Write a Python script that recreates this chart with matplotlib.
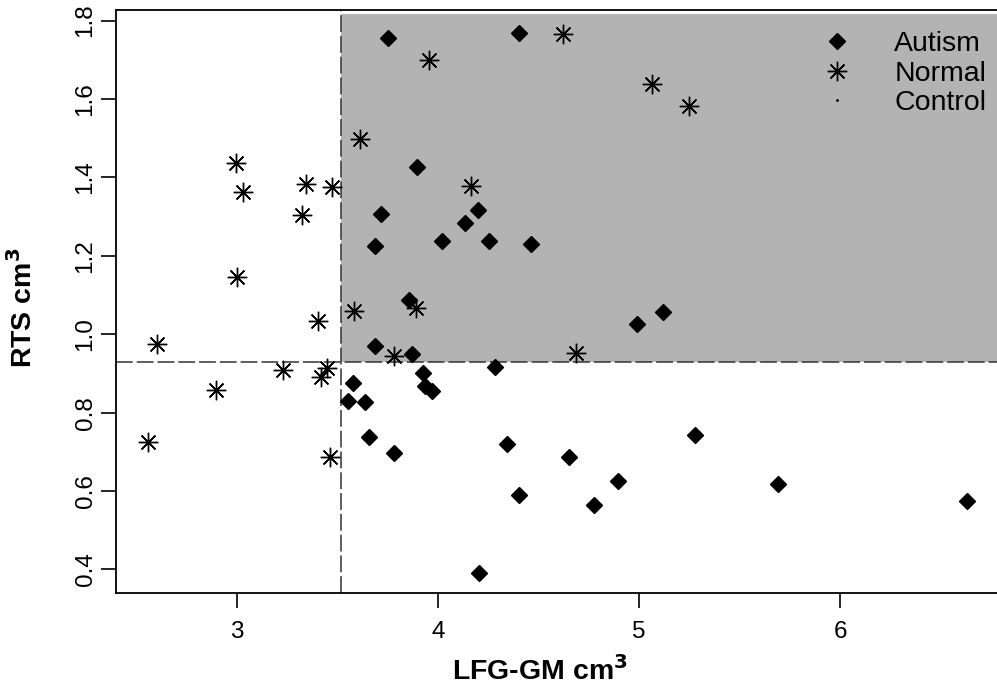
import matplotlib
matplotlib.use("Agg")
import matplotlib.pyplot as plt
from matplotlib.patches import Rectangle

plt.rcParams["font.family"] = ["Liberation Sans", "DejaVu Sans"]

# Autism group (filled diamonds)
autism_x = [3.752, 4.405, 3.898, 3.718, 4.198, 4.137, 3.689, 4.019, 4.256, 4.465,
            3.858, 3.688, 3.872, 4.283, 3.925, 3.936, 3.970, 3.577, 3.552, 3.636,
            3.658, 3.782, 4.344, 4.651, 4.404, 4.898, 4.778, 4.205, 4.989, 5.118,
            5.279, 5.693, 6.630]
autism_y = [1.756, 1.768, 1.427, 1.307, 1.316, 1.283, 1.226, 1.237, 1.237, 1.230,
            1.088, 0.969, 0.949, 0.916, 0.901, 0.869, 0.856, 0.875, 0.830, 0.827,
            0.737, 0.697, 0.719, 0.687, 0.589, 0.626, 0.565, 0.390, 1.027, 1.056,
            0.743, 0.618, 0.575]

# Normal control group (asterisks)
normal_x = [2.559, 2.604, 2.897, 2.997, 3.031, 3.000, 3.230, 3.325, 3.345, 3.405,
            3.420, 3.448, 3.464, 3.475, 3.583, 3.613, 3.957, 4.164, 4.624, 5.067,
            5.251, 4.686, 3.784, 3.892]
normal_y = [0.726, 0.976, 0.857, 1.438, 1.364, 1.147, 0.910, 1.305, 1.382, 1.035,
            0.892, 0.915, 0.686, 1.375, 1.060, 1.498, 1.699, 1.379, 1.765, 1.638,
            1.582, 0.951, 0.945, 1.066]

# cut-off lines
x_cut = 3.517
y_cut = 0.930
shade_top = 1.817

xlim = (2.40, 6.78)
ylim = (0.34, 1.827)
xticks = [3, 4, 5, 6]
yticks = [0.4, 0.6, 0.8, 1.0, 1.2, 1.4, 1.6, 1.8]

W, H = 997, 692
fig = plt.figure(figsize=(W / 100, H / 100), dpi=100)
ax = fig.add_axes([116 / W, (H - 593) / H, (W - 116) / W, (593 - 10) / H])
ax.set_xlim(*xlim)
ax.set_ylim(*ylim)

ax.add_patch(Rectangle((x_cut, y_cut), xlim[1] - x_cut, shade_top - y_cut,
                       facecolor="#b3b3b3", edgecolor="none", zorder=0))
dash = (0, (11, 2.6))
ax.axvline(x_cut, color="#333333", lw=1.1, linestyle=dash, zorder=1)
ax.axhline(y_cut, color="#333333", lw=1.1, linestyle=dash, zorder=1)

ax.plot(autism_x, autism_y, linestyle="none", marker="D", markersize=8.5,
        color="black", label="Autism", zorder=3)
ax.plot(normal_x, normal_y, linestyle="none", marker=(8, 2, 0), markersize=14,
        markeredgewidth=1.0, color="black", label="Normal", zorder=3)
ax.plot([], [], linestyle="none", marker=".", markersize=2, color="black",
        label="Control")

leg = ax.legend(loc="upper right", bbox_to_anchor=(1.004, 0.988), frameon=False,
                fontsize=20.5, handletextpad=1.5, labelspacing=0.12, borderpad=0,
                handlelength=1.0)

ax.spines["right"].set_visible(False)
for s in ("left", "bottom", "top"):
    ax.spines[s].set_linewidth(1.3)

ax.set_xticks(xticks)
ax.set_xticklabels([str(t) for t in xticks], fontsize=17.5)
ax.set_yticks(yticks)
ax.set_yticklabels([f"{t:.1f}" for t in yticks], rotation=90, va="center",
                   fontsize=17.5)
ax.tick_params(axis="both", direction="out", length=11, width=1.2)
ax.tick_params(axis="x", pad=9)
ax.tick_params(axis="y", pad=3)

ax.set_xlabel(r"LFG-GM cm$^\mathbf{3}$", fontsize=20.5, fontweight="bold")
ax.set_ylabel(r"RTS cm$^\mathbf{3}$", fontsize=20.5, fontweight="bold")
ax.xaxis.set_label_coords(0.481, -0.108)
ax.yaxis.set_label_coords(-0.0885, 0.49)

fig.savefig("out.png", dpi=100)
